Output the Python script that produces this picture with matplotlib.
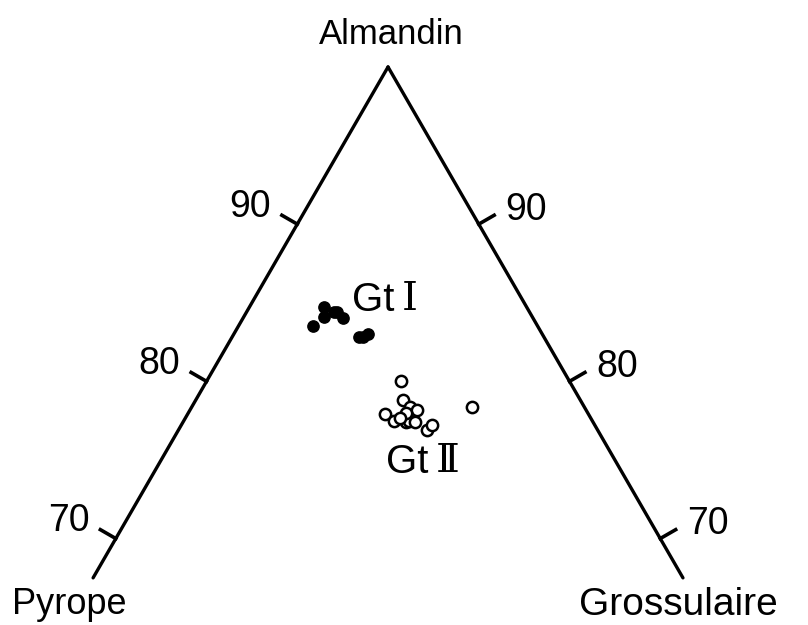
import numpy as np
import matplotlib
matplotlib.use("Agg")
import matplotlib.pyplot as plt

plt.rcParams["font.family"] = ["Liberation Sans", "DejaVu Sans"]

# garnet compositions, mol % (Almandin, Grossulaire); Pyrope = rest
gt1_alm = [83.5, 84.7, 84.1, 84.4, 84.4, 84.0, 82.8, 82.8, 83.0]
gt1_gro = [4.1, 4.1, 4.4, 4.8, 5.0, 5.5, 7.0, 7.2, 7.4]

gt2_alm = [80.0, 78.8, 77.9, 77.5, 77.7, 77.4, 77.5, 78.4, 78.2, 77.4,
           76.9, 77.2, 78.0, 77.7, 78.4]
gt2_gro = [10.7, 11.4, 10.9, 11.6, 12.0, 12.3, 12.4, 12.0, 12.5, 12.8,
           13.7, 13.8, 12.0, 11.8, 15.4]

tick_vals = [90, 80, 70]
alm_min = 67.5

S3 = np.sqrt(3) / 2


def tern(alm, gro):
    a = np.asarray(alm) / 100.0
    g = np.asarray(gro) / 100.0
    return g + a / 2, a * S3


fig = plt.figure(figsize=(8.08, 6.25), dpi=100)
ax = fig.add_axes([0, 0, 1, 1])
ax.set_xlim(0.2862, 0.7314)
ax.set_ylim(0.5586, 0.9029)
ax.axis("off")

# the two sides of the triangle
lx, ly = tern([100, alm_min], [0, 0])
rx, ry = tern([100, alm_min], [0, 100 - alm_min])
ax.plot(lx, ly, color="black", lw=2.4, solid_capstyle="round")
ax.plot(rx, ry, color="black", lw=2.4, solid_capstyle="round")

tl = 0.0098
for v in tick_vals:
    # left side (Pyrope - Almandin)
    x0, y0 = tern(v, 0)
    x1, y1 = x0 - tl * S3, y0 + tl * 0.5
    ax.plot([x0, x1], [y0, y1], color="black", lw=2.6)
    ax.annotate(str(v), (x1, y1), xytext=(-8, 6), textcoords="offset points",
                ha="right", va="center", fontsize=27)
    # right side (Almandin - Grossulaire)
    x0, y0 = tern(v, 100 - v)
    x1, y1 = x0 + tl * S3, y0 + tl * 0.5
    ax.plot([x0, x1], [y0, y1], color="black", lw=2.6)
    ax.annotate(str(v), (x1, y1), xytext=(8, 4), textcoords="offset points",
                ha="left", va="center", fontsize=27)

x, y = tern(gt1_alm, gt1_gro)
ax.scatter(x, y, s=66, color="black", zorder=3)
x, y = tern(gt2_alm, gt2_gro)
ax.scatter(x, y, s=66, facecolor="white", edgecolor="black", lw=1.8, zorder=3)

# corner names
ax.text(391 / 808, 1 - 35 / 625, "Almandin", transform=ax.transAxes,
        ha="center", va="center", fontsize=25)
ax.text(12 / 808, 1 - 605 / 625, "Pyrope", transform=ax.transAxes,
        ha="left", va="center", fontsize=26)
ax.text(778 / 808, 1 - 605 / 625, "Grossulaire", transform=ax.transAxes,
        ha="right", va="center", fontsize=28)

# group labels
t1 = ax.text(352 / 808, 1 - 300 / 625, "Gt", transform=ax.transAxes,
             ha="left", va="center", fontsize=29)
ax.annotate("\u2160", xy=(1, 0.5), xycoords=t1, xytext=(5, 0),
            textcoords="offset points", ha="left", va="center",
            fontsize=29, family=["DejaVu Serif"])
t2 = ax.text(386 / 808, 1 - 462 / 625, "Gt", transform=ax.transAxes,
             ha="left", va="center", fontsize=29)
ax.annotate("\u2161", xy=(1, 0.5), xycoords=t2, xytext=(5, 0),
            textcoords="offset points", ha="left", va="center",
            fontsize=29, family=["DejaVu Serif"])

fig.savefig("out.png", dpi=100)
